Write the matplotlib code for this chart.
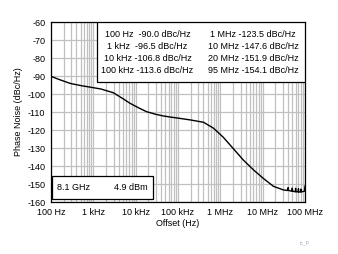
import matplotlib
matplotlib.use("Agg")
import matplotlib.pyplot as plt
from matplotlib.patches import Rectangle

plt.rcParams['font.family'] = ['Liberation Sans', 'DejaVu Sans']
plt.rcParams['axes.unicode_minus'] = False

# phase noise curve
freq = [100, 150, 282, 500, 1000, 1500, 2970, 5000, 7400, 12000, 18000, 30000,
        45000, 70000, 107000, 195000, 400000, 690000, 1170000, 2000000,
        3500000, 6100000, 10500000, 18000000, 31000000,
        39000000, 40000000, 41000000,
        49000000, 50000000, 51000000,
        59000000, 60000000, 61000000,
        69000000, 70000000, 71000000,
        79000000, 80000000, 81000000,
        97000000, 100000000]
noise = [-90.2, -91.8, -94.1, -95.3, -96.5, -97.2, -99.3, -102.6, -105.2, -107.8,
         -109.8, -111.3, -112.2, -112.9, -113.5, -114.4, -115.7, -119.0, -124.0,
         -130.2, -136.7, -142.2, -147.0, -151.3, -153.3,
         -153.6, -152.0, -153.6,
         -154.0, -152.3, -154.0,
         -154.3, -152.4, -154.3,
         -154.4, -152.6, -154.4,
         -154.4, -152.8, -154.4,
         -154.0, -151.2]

xticks = [1e2, 1e3, 1e4, 1e5, 1e6, 1e7, 1e8]
xlabels = ["100 Hz", "1 kHz", "10 kHz", "100 kHz", "1 MHz", "10 MHz", "100 MHz"]
yticks = list(range(-160, -59, 10))

summary_left = ["100 Hz  -90.0 dBc/Hz", "1 kHz  -96.5 dBc/Hz",
                "10 kHz -106.8 dBc/Hz", "100 kHz -113.6 dBc/Hz"]
summary_right = ["1 MHz -123.5 dBc/Hz", "10 MHz -147.6 dBc/Hz",
                 "20 MHz -151.9 dBc/Hz", "95 MHz -154.1 dBc/Hz"]

fig = plt.figure(figsize=(3.38, 2.54), dpi=100)
ax = fig.add_axes([51 / 338, 52 / 254, 254 / 338, 180 / 254])

ax.semilogx(freq, noise, color="black", lw=1.0, zorder=3)
ax.set_xlim(1e2, 1e8)
ax.set_ylim(-160, -60)
ax.set_xticks(xticks)
ax.set_xticklabels(xlabels)
ax.set_yticks(yticks)
ax.grid(which="both", color="#c0c0c0", lw=0.9)
ax.tick_params(which="both", length=0, labelsize=6.5, pad=4)
ax.set_xlabel("Offset (Hz)", fontsize=6.5, labelpad=2)
ax.set_ylabel("Phase Noise (dBc/Hz)", fontsize=6.5, labelpad=3)
for s in ax.spines.values():
    s.set_linewidth(0.9)

# summary box at top
ax.add_patch(Rectangle((0.181, 0.667), 0.819, 0.333, transform=ax.transAxes,
                       facecolor="white", edgecolor="black", lw=0.9, zorder=4))
rows_y = [0.933, 0.866, 0.80, 0.733]
for y, l, r in zip(rows_y, summary_left, summary_right):
    ax.text(0.38, y, l, transform=ax.transAxes, ha="center", va="center",
            fontsize=6.5, zorder=5)
    ax.text(0.795, y, r, transform=ax.transAxes, ha="center", va="center",
            fontsize=6.5, zorder=5)

# carrier box at bottom
ax.add_patch(Rectangle((0.004, 0.017), 0.398, 0.127, transform=ax.transAxes,
                       facecolor="white", edgecolor="black", lw=0.9, zorder=4))
ax.text(0.024, 0.083, "8.1 GHz", transform=ax.transAxes, ha="left", va="center",
        fontsize=6.5, zorder=5)
ax.text(0.248, 0.083, "4.9 dBm", transform=ax.transAxes, ha="left", va="center",
        fontsize=6.5, zorder=5)

fig.text(305 / 338, 1 - 243 / 254, "tc_P", fontsize=3.5, color="#a0a8b8",
         ha="center", va="center")

fig.savefig("out.png", dpi=100)
